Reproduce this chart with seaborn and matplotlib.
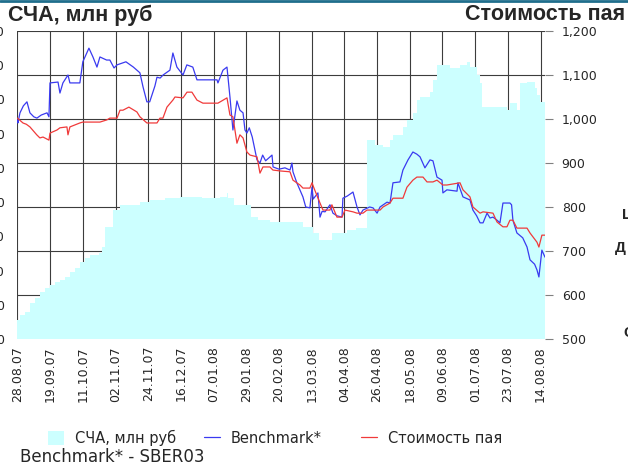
import numpy as np
import pandas as pd
import matplotlib
matplotlib.use("Agg")
import matplotlib.pyplot as plt
import seaborn as sns
from matplotlib.patches import Patch
from matplotlib.lines import Line2D

# ---------------- data ----------------
tick_days = [0, 22, 44, 66, 88, 110, 132, 154, 176, 198, 220, 242, 264, 286, 308, 330, 352]
tick_labels = ["28.08.07", "19.09.07", "11.10.07", "02.11.07", "24.11.07", "16.12.07",
               "07.01.08", "29.01.08", "20.02.08", "13.03.08", "04.04.08", "26.04.08",
               "18.05.08", "09.06.08", "01.07.08", "23.07.08", "14.08.08"]

# СЧА, млн руб (left axis) - days since 28.08.07
nav_days = [0, 1.7, 5, 8.4, 11.8, 15.1, 18.5, 21.9, 25.2, 28.6, 32, 35.3, 38.7, 42, 45.4, 48.8,
            55, 57, 58.9, 63.6, 64.3, 69, 82.4, 89.2, 99.3, 109.4, 124, 136, 141, 142, 146,
            156.5, 157, 162, 170, 185, 192, 199, 203, 210, 212, 222, 228, 235, 235.5,
            240.6, 246, 250.7, 252.7, 259.4, 262, 266, 268.8, 270.9, 277.6, 279.6, 282.3,
            291, 297.8, 302.5, 304.5, 309.2, 311.3, 312.6, 326.7, 329.4, 331.4, 333.4,
            336.1, 338.2, 342.9, 348, 349.6, 351.6, 355]
nav_values = [278, 351, 394, 526, 599, 687, 745, 789, 833, 862, 906, 979, 1037, 1125, 1183, 1227,
              1250, 1344, 1636, 1636, 1885, 1958, 2002, 2031, 2060, 2075, 2060, 2070, 2133, 2060, 1958,
              1958, 1782, 1739, 1709, 1709, 1636, 1549, 1446, 1446, 1549, 1592, 1622, 1666, 2907,
              2834, 2805, 2907, 2980, 3097, 3200, 3302, 3492, 3536, 3609, 3784, 4003,
              3959, 4003, 4047, 3974, 3857, 3740, 3390, 3390, 3346, 3448, 3448,
              3346, 3740, 3755, 3667, 3565, 3463, 3419]

# Benchmark* (right axis)
bench_days = [0, 0.3, 1.7, 4, 6.4, 8.4, 11, 13.1, 16, 19.9, 21.2, 21.9, 27.3, 28.6, 30.6, 34, 35.3,
              42, 44, 48.1, 50.8, 53.5, 55.5, 60, 62.2, 65, 67, 73, 78, 80.4, 82.4, 84.5, 87.1,
              89, 92.5, 93.9, 96, 98, 102.6, 104.6, 107.3, 111.4, 114, 118, 120.8, 128, 134.3,
              134.9, 138.3, 141, 143, 145, 147.7, 149.7, 151.8, 153.1, 154.4, 156, 158, 161.2,
              163.2, 165, 167, 171.3, 172, 176, 180, 183.4, 184.7, 185.4, 188, 192.1, 194, 196.8,
              198.2, 199, 202.2, 203.6, 205, 207, 210.3, 212.3, 215, 218.4, 219, 222, 225.8,
              228.5, 230.5, 232.5, 237, 239.3, 242, 244, 248.7, 250.7, 252.7, 257.4, 259.4,
              262.8, 266.1, 268.8, 270.9, 274.2, 277.6, 279.6, 282.3, 285.7, 286.3, 289, 295.8,
              296.4, 299.8, 304.5, 306.5, 309, 311.3, 313.3, 316, 318, 320, 322.7, 324.7, 326.7,
              331.4, 332.5, 333.4, 336.1, 340, 342.9, 344.9, 348, 349.6, 350.9, 352.9, 355]
bench_values = [998, 991, 1014, 1030, 1039, 1014, 1005, 1002, 1009, 1014, 1005, 1082, 1084, 1059,
                1082, 1100, 1082, 1082, 1130, 1161, 1141, 1118, 1141, 1134, 1134, 1116, 1123, 1130,
                1118, 1111, 1105, 1073, 1039, 1039, 1075, 1095, 1093, 1100, 1111, 1150, 1118, 1100,
                1123, 1118, 1089, 1089, 1089, 1082, 1111, 1118, 1050, 975, 1041, 1020, 1014, 975,
                968, 980, 959, 907, 900, 918, 905, 918, 891, 886, 889, 884, 900, 880, 855, 823,
                800, 798, 845, 818, 832, 777, 790, 789, 805, 786, 780, 777, 820, 825, 834, 800,
                782, 793, 800, 798, 786, 800, 811, 809, 855, 857, 884, 907, 925, 920, 914, 889,
                907, 905, 868, 861, 832, 839, 836, 855, 823, 816, 793, 780, 764, 764, 786, 775,
                777, 770, 764, 809, 809, 805, 770, 741, 730, 709, 680, 670, 657, 641, 702, 686]

# Стоимость пая (right axis)
unit_days = [0, 3.7, 6, 8.4, 13, 15.1, 17.2, 21.2, 21.9, 26.6, 28.6, 33.3, 34, 35.3, 42, 44, 50.8,
             55.5, 60.2, 62.2, 67, 69, 71, 75, 80.4, 82.4, 87.1, 93.9, 95.9, 97.9, 100.6, 104.6,
             106, 111.4, 114.1, 117.4, 120.8, 124.8, 134.9, 141, 143, 145, 147.7, 149.7, 151.8,
             154.4, 156.5, 161.2, 163.2, 165.2, 169.9, 171.9, 176.6, 183.4, 185.4, 190.1, 192.1,
             196.8, 198.2, 200, 203.6, 205.6, 210.3, 211.6, 215, 218.4, 220.4, 225.8, 228.5,
             232.5, 235.2, 244, 246, 250.7, 252.7, 259.4, 262.1, 266.1, 268.8, 272.9, 275.6,
             279.6, 282.3, 286.3, 289, 297.8, 299.8, 304.5, 306.5, 311.3, 313.3, 320, 322.7,
             326.7, 329.4, 331.4, 333.4, 336.1, 342.9, 344.9, 349.6, 350.9, 352.9, 355]
unit_values = [1002, 991, 988, 982, 964, 957, 959, 952, 968, 975, 980, 982, 964, 982, 991, 993, 993,
               993, 998, 1002, 1002, 1020, 1020, 1027, 1016, 1005, 991, 991, 1002, 1002, 1027, 1043,
               1050, 1048, 1061, 1061, 1043, 1036, 1036, 1048, 1009, 1005, 945, 964, 957,
               925, 918, 914, 877, 891, 891, 884, 882, 880, 861, 850, 843,
               843, 855, 839, 809, 793, 793, 805, 777, 777, 793, 789, 786,
               786, 793, 793, 800, 809, 820, 820, 845, 861, 868, 868, 857,
               857, 861, 850, 850, 855, 839, 823, 800, 786, 789, 786, 766,
               755, 755, 770, 770, 752, 752, 741, 720, 709, 736, 736]

left_ticks = [0, 500, 1000, 1500, 2000, 2500, 3000, 3500, 4000, 4500]
right_ticks = [500, 600, 700, 800, 900, 1000, 1100, 1200]

# ---------------- figure ----------------
sns.set_style("white")
plt.rcParams["font.family"] = ["DejaVu Sans"]

fig = plt.figure(figsize=(6.28, 4.69), dpi=100)
pos = [17 / 628, 1 - 339 / 469, (545 - 17) / 628, (339 - 31) / 469]

AREA = "#CCFFFF"
BLUE = "#3A3AF0"
RED = "#F03A3A"
GRID = "#3C3C3C"

axg = fig.add_axes(pos)
axa = axg.twinx()
axl = axg.twinx()

# grid axes (bottom layer, right scale)
axg.set_xlim(-0.3, 355)
axg.set_ylim(500, 1200)
axg.set_xticks(tick_days)
axg.set_xticklabels(tick_labels, rotation=90, fontsize=9)
axg.set_yticks(right_ticks)
axg.set_yticklabels([f"{v:,}" for v in right_ticks], fontsize=9)
axg.yaxis.tick_right()
axg.yaxis.set_label_position("right")
axg.tick_params(axis="y", which="both", left=False, labelleft=False, right=True, labelright=True,
                length=6, width=0.8, color="#808080", pad=6)
axg.tick_params(axis="x", length=0, pad=5)
axg.grid(True, color=GRID, linewidth=0.8)
for s in axg.spines.values():
    s.set_visible(False)

# area axes (left scale)
axa.yaxis.tick_left()
axa.set_ylim(0, 4500)
axa.set_yticks(left_ticks)
axa.set_yticklabels([f"{v:,}" for v in left_ticks], fontsize=9)
axa.tick_params(axis="y", left=True, labelleft=True, right=False, labelright=False,
                length=0, pad=9)
axa.fill_between(nav_days, nav_values, 0, step="post", color=AREA, linewidth=0)
axa.patch.set_visible(False)
for s in axa.spines.values():
    s.set_visible(False)

# lines axes (right scale, no ticks)
axl.set_ylim(500, 1200)
axl.set_yticks([])
axl.patch.set_visible(False)
for s in axl.spines.values():
    s.set_visible(False)
df_b = pd.DataFrame({"day": bench_days, "value": bench_values})
df_u = pd.DataFrame({"day": unit_days, "value": unit_values})
sns.lineplot(data=df_b, x="day", y="value", ax=axl, color=BLUE, linewidth=0.9,
             estimator=None, sort=False, legend=False)
sns.lineplot(data=df_u, x="day", y="value", ax=axl, color=RED, linewidth=0.9,
             estimator=None, sort=False, legend=False)
axl.set_xlabel("")
axl.set_ylabel("")
axl.set_xlim(-0.3, 355)
axl.set_ylim(500, 1200)

# titles
fig.text(8 / 628, 1 - 15 / 469, "СЧА, млн руб", fontsize=15.5, fontweight="bold",
         family="Liberation Sans", ha="left", va="center")
fig.text(625 / 628, 1 - 15 / 469, "Стоимость пая", fontsize=15.5, fontweight="bold",
         family="Liberation Sans", ha="right", va="center")

# cropped side text
for xx, yy, t in [(622, 215, "Ш"), (615, 248, "Д"), (623, 333, "С")]:
    fig.text(xx / 628, 1 - yy / 469, t, fontsize=11, fontweight="bold",
             family="Liberation Sans", ha="left", va="center")

# top border line
fig.add_artist(Line2D([0, 1], [0.998, 0.998], transform=fig.transFigure,
                      color="#1F6E8C", linewidth=2))

# legend: three entries at fixed positions
entries = [(Patch(facecolor=AREA, edgecolor="none", label="СЧА, млн руб"), 48),
           (Line2D([], [], color=BLUE, linewidth=0.9, label="Benchmark*"), 204),
           (Line2D([], [], color=RED, linewidth=0.9, label="Стоимость пая"), 361)]
for h, x0 in entries:
    fig.legend(handles=[h], loc="center left", bbox_to_anchor=(x0 / 628, 1 - 438 / 469),
               frameon=False, fontsize=10.5, handlelength=1.1, handleheight=1.1,
               handletextpad=0.75, borderaxespad=0, borderpad=0)

fig.text(20 / 628, 1 - 457 / 469, "Benchmark* - SBER03", fontsize=12,
         ha="left", va="center")

fig.savefig("out.png", dpi=100)
